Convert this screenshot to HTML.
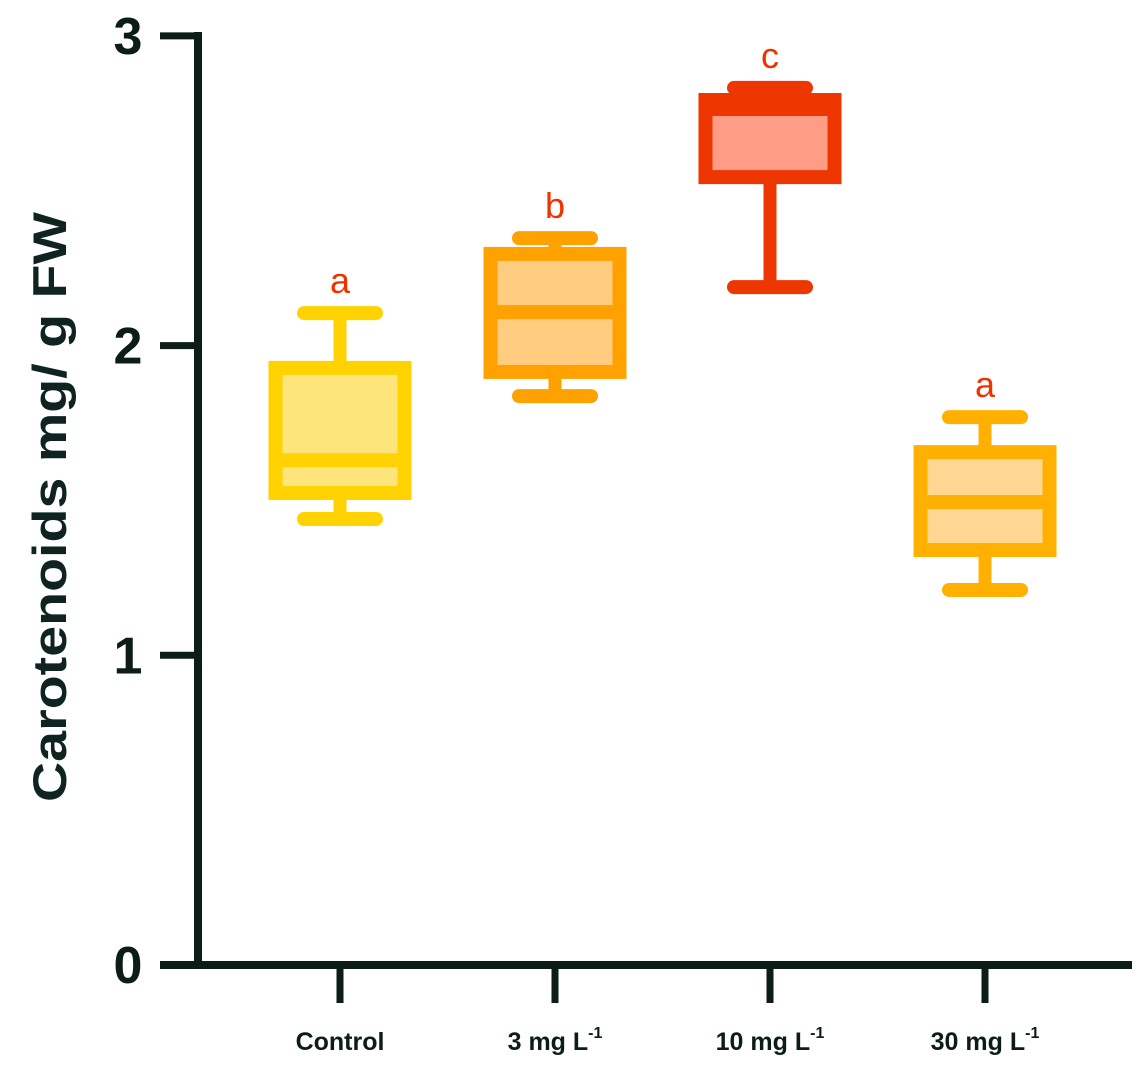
<!DOCTYPE html>
<html><head><meta charset="utf-8">
<style>
html,body{margin:0;padding:0;background:#fff;}
svg{display:block;font-family:"Liberation Sans",Arial,sans-serif;}
</style></head>
<body>
<svg id="chart" width="1146" height="1080" viewBox="0 0 1146 1080" xmlns="http://www.w3.org/2000/svg">
  <g id="axes"></g>
  <g id="boxes"></g>
  <text transform="translate(66,507) rotate(-90)" text-anchor="middle" font-size="47" font-weight="bold" fill="#0f2420" textLength="590" lengthAdjust="spacingAndGlyphs">Carotenoids mg/ g FW</text>
</svg>
<script>
const categories = ["Control", "3 mg L", "10 mg L", "30 mg L"];
const superscripts = ["", "-1", "-1", "-1"];
const mins = [1.44, 1.837, 2.189, 1.211];
const q1s = [1.524, 1.915, 2.544, 1.340];
const medians = [1.63, 2.108, 2.764, 1.495];
const q3s = [1.928, 2.296, 2.793, 1.656];
const maxs = [2.105, 2.347, 2.832, 1.769];
const letters = ["a", "b", "c", "a"];
const yTicks = [0, 1, 2, 3];
const strokes = ["#FFD200", "#FFA200", "#EE3600", "#FFB000"];
const fills = ["#FDE57C", "#FFCC80", "#FF9C86", "#FFD792"];

const NS = "http://www.w3.org/2000/svg";
const y = v => 965 - v * 309.7;
const x = i => 340 + i * 215;
function mk(parent, tag, attrs) {
  const e = document.createElementNS(NS, tag);
  for (const k in attrs) e.setAttribute(k, attrs[k]);
  parent.appendChild(e);
  return e;
}
const axes = document.getElementById("axes");
const boxes = document.getElementById("boxes");
const dark = "#0c1c17";

let l = mk(axes, "line", {x1: 198, y1: 32, x2: 198, y2: 969, stroke: dark, "stroke-width": 8});


l = mk(axes, "line", {x1: 160, y1: 965, x2: 1132, y2: 965, stroke: dark, "stroke-width": 8});



yTicks.forEach(t => {
  const tk = mk(axes, "line", {x1: 160, y1: y(t), x2: 198, y2: y(t), stroke: dark, "stroke-width": 7});
  
  
  const tx = mk(axes, "text", {x: 128, y: y(t) + 18, "text-anchor": "middle", "font-size": 52, "font-weight": "bold", fill: dark});
  tx.textContent = String(t);
  
  
});

categories.forEach((c, i) => {
  const cx = x(i);
  const tk = mk(axes, "line", {x1: cx, y1: 965, x2: cx, y2: 1003, stroke: dark, "stroke-width": 7});
  
  
  const tx = mk(axes, "text", {x: cx, y: 1050, "text-anchor": "middle", "font-size": 25, "font-weight": "bold", fill: dark});
  
  
  tx.appendChild(document.createTextNode(c));
  if (superscripts[i]) {
    const ts = mk(tx, "tspan", {"font-size": 16, dy: -12});
    ts.textContent = superscripts[i];
  }

  const g = mk(boxes, "g", {});
  
  
  const s = strokes[i], hw = 64.5, cw = 36;
  const w1 = mk(g, "line", {x1: cx, y1: y(maxs[i]), x2: cx, y2: y(q3s[i]), stroke: s, "stroke-width": 13});
  
  
  const w2 = mk(g, "line", {x1: cx, y1: y(q1s[i]), x2: cx, y2: y(mins[i]), stroke: s, "stroke-width": 13});
  
  
  const c1 = mk(g, "line", {x1: cx - cw, y1: y(maxs[i]), x2: cx + cw, y2: y(maxs[i]), stroke: s, "stroke-width": 14, "stroke-linecap": "round"});
  
  
  const c2 = mk(g, "line", {x1: cx - cw, y1: y(mins[i]), x2: cx + cw, y2: y(mins[i]), stroke: s, "stroke-width": 14, "stroke-linecap": "round"});
  
  
  const r = mk(g, "rect", {x: cx - hw, y: y(q3s[i]), width: 2 * hw, height: y(q1s[i]) - y(q3s[i]), fill: fills[i], stroke: s, "stroke-width": 14});
  
  
  const m = mk(g, "line", {x1: cx - hw, y1: y(medians[i]), x2: cx + hw, y2: y(medians[i]), stroke: s, "stroke-width": 14});
  
  
  const lt = mk(g, "text", {x: cx, y: y(maxs[i]) - 20, "text-anchor": "middle", "font-size": 36, fill: "#EE3300"});
  lt.textContent = letters[i];
  
  
});
</script>
</body></html>
